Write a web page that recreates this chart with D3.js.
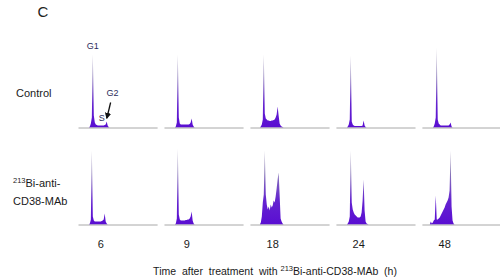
<!DOCTYPE html>
<html>
<head>
<meta charset="utf-8">
<script src="https://cdn.jsdelivr.net/npm/d3@7"></script>
<style>
  html, body { margin: 0; padding: 0; background: #fff; }
  svg { display: block; font-family: "Liberation Sans", Arial, sans-serif; }
</style>
</head>
<body>
<svg id="chart" width="500" height="279"></svg>
<script>
// ---- data ----
const timepoints = ["6", "9", "18", "24", "48"];
const rowLabels = ["Control", "213Bi-anti-CD38-MAb"];
const channelStart = 8; // first channel of each histogram array

// Control row (DNA content histograms, counts in relative units)
const control6h  = [0,0,0,0,1,4,10,73,12,5,3,2.5,2,2,2,2,2,2,2,2.5,3,6,2,0.5,0,0,0];
const control9h  = [0,0,0,0,1,5,73,10,4,3,3,3,3,3,3,3,3,3,3.5,5,9,3,1,0,0,0,0];
const control18h = [0,0,0,1,3,8,73,14,9,8,7,7,6.5,6.5,7,7,7.5,8,10,13,21,12,4,2,1,0.5,0];
const control24h = [0,0,0,0,1,3,8,72,6,3,2,1.5,1.5,1.5,1.5,1.5,1.5,1.5,1.5,2,7,2,0.5,0,0,0,0];
const control48h = [0,0,0,0,1,4,10,80,8,4,3,2,2,2,2,2,2,2,2,2,3,5,1,0,0,0,0];

// 213Bi-anti-CD38-MAb row
const treated6h  = [0,0,0,0,1,5,74,8,4,3,3,3,3,3,3,3,3.5,4,5,11,3,1,0,0,0,0,0];
const treated9h  = [0,0,0,0,1,6,76,10,5,4,4,4,4,4,4.5,4.5,5,5,6,8,13,4,1,0,0,0,0];
const treated18h = [0,0,0,2,8,22,30,74,30,20,15,18,14,20,17,19,24,22,28,36,45,52,30,6,3,1,0];
const treated24h = [0,0,0,0,1,3,8,74,22,15,12,10,9,8,7,7,7,8,12,24,45,14,3,1,0.5,0,0];
const treated48h = [0,3,1,2,4,5,29,5,5,6,7,9,11,13,15,17,20,22,24,27,34,74,18,4,1,0,0];

const controlRow = [control6h, control9h, control18h, control24h, control48h];
const treatedRow = [treated6h, treated9h, treated18h, treated24h, treated48h];
const rows = [controlRow, treatedRow];

// ---- layout ----
const svg = d3.select("#chart");
const colScale = d3.scaleBand().domain(timepoints).range([78, 501]).paddingInner(0.08);
const rowBaselines = [127.5, 224.5];
const chanDomain = [0, 80];
const countDomain = [0, 80];

const defs = svg.append("defs");
rowBaselines.forEach((b, r) => {
  const g = defs.append("linearGradient")
    .attr("id", "grad" + r)
    .attr("gradientUnits", "userSpaceOnUse")
    .attr("x1", 0).attr("x2", 0)
    .attr("y1", b).attr("y2", b - 80);
  g.append("stop").attr("offset", "0").attr("stop-color", "#5a0ed2");
  g.append("stop").attr("offset", "0.3").attr("stop-color", "#6423d0");
  g.append("stop").attr("offset", "0.65").attr("stop-color", "#8a7ab8");
  g.append("stop").attr("offset", "1").attr("stop-color", "#b8b4c2");
});

rows.forEach((row, r) => {
  const base = rowBaselines[r];
  const y = d3.scaleLinear().domain(countDomain).range([base, base - 80]);
  row.forEach((counts, c) => {
    const x0 = colScale(timepoints[c]);
    const x = d3.scaleLinear().domain(chanDomain).range([x0, x0 + colScale.bandwidth()]);
    const pts = counts.map((v, i) => [channelStart + i, v]);
    const area = d3.area().x(d => x(d[0])).y0(y(0)).y1(d => y(d[1]));
    svg.append("path")
      .datum(pts)
      .attr("d", area)
      .attr("fill", "url(#grad" + r + ")")
      .attr("stroke", "none");
    // baseline axis
    const axis = d3.axisBottom(x).tickValues([]).tickSizeOuter(0);
    const ag = svg.append("g").attr("transform", `translate(0,${base})`).call(axis);
    ag.select(".domain").attr("stroke", "#a8a8a8").attr("stroke-width", 1);
  });
});

// column (time) labels
const xLab = svg.append("g").attr("transform", "translate(0,248)");
timepoints.forEach(t => {
  const x0 = colScale(t);
  const x = d3.scaleLinear().domain(chanDomain).range([x0, x0 + colScale.bandwidth()]);
  xLab.append("text")
    .attr("x", x(23)).attr("y", 0)
    .attr("text-anchor", "middle")
    .attr("font-size", 11)
    .attr("fill", "#1a1a1a")
    .text(t);
});

// axis title
const title = svg.append("text")
  .attr("x", 275).attr("y", 275)
  .attr("text-anchor", "middle")
  .attr("font-size", 10.5)
  .style("white-space", "pre")
  .attr("fill", "#1a1a1a");
title.append("tspan").text("Time  after  treatment  with ");
title.append("tspan").attr("font-size", 7.5).attr("dy", -4).text("213");
title.append("tspan").attr("dy", 4).text("Bi-anti-CD38-MAb  (h)");

// row labels
svg.append("text").attr("x", 16).attr("y", 97)
  .attr("font-size", 11).attr("fill", "#1a1a1a").text(rowLabels[0]);
const rl = svg.append("text").attr("x", 13).attr("y", 187)
  .attr("font-size", 11).attr("fill", "#1a1a1a");
rl.append("tspan").attr("font-size", 7.5).attr("dy", -4).text("213");
rl.append("tspan").attr("dy", 4).text("Bi-anti-");
svg.append("text").attr("x", 13).attr("y", 205)
  .attr("font-size", 11).attr("fill", "#1a1a1a").text("CD38-MAb");

// panel letter
svg.append("text").attr("x", 43).attr("y", 17)
  .attr("font-size", 15).attr("text-anchor", "middle").attr("fill", "#222").text("C");

// phase annotations on first control panel
const ax0 = colScale(timepoints[0]);
const ax = d3.scaleLinear().domain(chanDomain).range([ax0, ax0 + colScale.bandwidth()]);
const ay = d3.scaleLinear().domain(countDomain).range([rowBaselines[0], rowBaselines[0] - 80]);
svg.append("text").attr("x", ax(15)).attr("y", ay(79))
  .attr("font-size", 9).attr("text-anchor", "middle").attr("fill", "#2c2c5c").text("G1");
svg.append("text").attr("x", ax(35)).attr("y", ay(32))
  .attr("font-size", 9).attr("text-anchor", "middle").attr("fill", "#2c2c5c").text("G2");
svg.append("text").attr("x", ax(24)).attr("y", ay(6.5))
  .attr("font-size", 9).attr("text-anchor", "middle").attr("fill", "#2c2c5c").text("S");
defs.append("marker").attr("id", "arrow").attr("viewBox", "0 0 10 10")
  .attr("refX", 8).attr("refY", 5).attr("markerWidth", 5).attr("markerHeight", 5)
  .attr("orient", "auto")
  .append("path").attr("d", "M0,0 L10,5 L0,10 Z").attr("fill", "#111");
svg.append("line")
  .attr("x1", ax(33)).attr("y1", ay(25))
  .attr("x2", ax(29.2)).attr("y2", ay(9.5))
  .attr("stroke", "#111").attr("stroke-width", 1.3)
  .attr("marker-end", "url(#arrow)");
</script>
</body>
</html>
